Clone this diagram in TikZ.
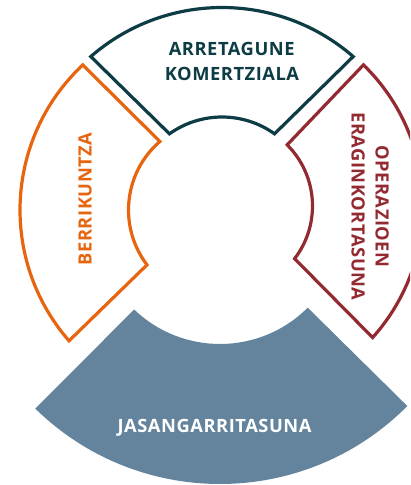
\documentclass[tikz,border=0pt]{standalone}
\usepackage{fontspec}
\setmainfont{Open Sans}
\usetikzlibrary{calc}
\definecolor{tealc}{HTML}{0E3C45}
\definecolor{orangec}{HTML}{E8650F}
\definecolor{redc}{HTML}{942A31}
\definecolor{bluec}{HTML}{63849C}
\tikzset{
  seg/.style={line width=3.2pt, fill=white},
  lbl/.style={font=\fontsize{18.3}{24}\selectfont\bfseries\addfontfeature{LetterSpace=3}, inner sep=0pt, anchor=base}
}
\begin{document}
\begin{tikzpicture}[x=1pt,y=1pt]
\useasboundingbox (0,0) rectangle (410,-485);
\clip (0,0) rectangle (410,-485);
\coordinate (T) at (222,-207.5);
\coordinate (L) at (219,-210);
\coordinate (R) at (226,-206);
\coordinate (B) at (220,-220);
% top
\draw[seg, draw=tealc] ($(T)+(131:200)$) arc[start angle=131,end angle=49,radius=200pt]
  -- ($(T)+(54.5:90.5)$) arc[start angle=54.5,end angle=125.5,radius=90.5pt] -- cycle;
% left
\draw[seg, draw=orangec] ($(L)+(133.2:199)$) arc[start angle=133.2,end angle=221.1,radius=199pt]
  -- ($(L)+(217.3:90.5)$) arc[start angle=217.3,end angle=130.8,radius=90.5pt] -- cycle;
% right
\draw[seg, draw=redc] ($(R)+(45.75:197)$) arc[start angle=45.75,end angle=-41.9,radius=197pt]
  -- ($(R)+(-37.5:86.5)$) arc[start angle=-37.5,end angle=45,radius=86.5pt] -- cycle;
% bottom
\fill[bluec] ($(B)+(225.6:264)$) arc[start angle=225.6,end angle=315.2,radius=264pt]
  -- ($(B)+(315:124)$) arc[start angle=315,end angle=226.2,radius=124pt] -- cycle;
% labels
\node[lbl, text=tealc] (tt1) at (231.7,-55.7) {ARRETAGUNE};
\node[lbl, text=tealc] (tt2) at (232,-80) {KOMERTZIALA};
\node[lbl, text=orangec, rotate=90] (tl) at (91.7,-199) {BERRIKUNTZA};
\node[lbl, text=redc, rotate=-90] (tr1) at (375.5,-206.5) {OPERAZIOEN};
\node[lbl, text=redc, rotate=-90] (tr2) at (351.5,-206.5) {ERAGINKORTASUNA};
\node[lbl, text=white] (tb) at (214.5,-432) {JASANGARRITASUNA};
\end{tikzpicture}
\end{document}
